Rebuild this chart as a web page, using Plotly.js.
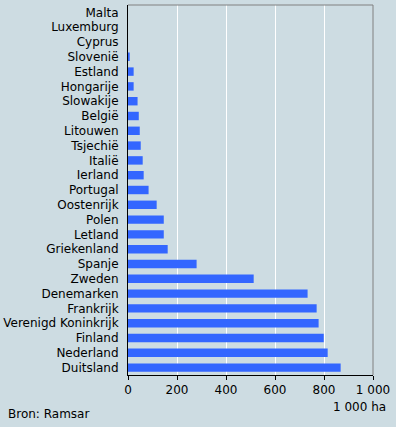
<!DOCTYPE html>
<html>
<head>
<meta charset="utf-8">
<script src="https://cdn.plot.ly/plotly-3.0.1.min.js"></script>
<style>html,body{margin:0;padding:0;background:#cddce2;}#chart{width:396px;height:427px;}</style>
</head>
<body>
<div id="chart"></div>
<script>
const countries = ["Malta","Luxemburg","Cyprus","Slovenië","Estland","Hongarije","Slowakije","België","Litouwen","Tsjechië","Italië","Ierland","Portugal","Oostenrijk","Polen","Letland","Griekenland","Spanje","Zweden","Denemarken","Frankrijk","Verenigd Koninkrijk","Finland","Nederland","Duitsland"];
const areas = [0,0,0,7,23,23,39,44,48,52,60,64,84,117,146,146,162,280,513,733,770,778,799,815,868];
const tickValues = [0,200,400,600,800,1000];
const tickLabels = ["0","200","400","600","800","1 000"];

const bg = "#cddce2";
const data = [{
  type: "bar",
  orientation: "h",
  y: countries,
  x: areas,
  marker: {color: "#3366ff"},
  hoverinfo: "skip"
}];
const layout = {
  width: 396, height: 427,
  paper_bgcolor: bg, plot_bgcolor: bg,
  margin: {l: 128, r: 23, t: 5, b: 52},
  bargap: 0.43,
  showlegend: false,
  font: {family: "DejaVu Sans, Verdana, sans-serif", size: 12, color: "#000"},
  xaxis: {
    range: [0, 1000], fixedrange: true,
    tickvals: tickValues, ticktext: tickLabels,
    showgrid: true, gridcolor: "#ffffff", gridwidth: 1,
    showline: true, linecolor: "#000", linewidth: 1,
    ticks: "outside", ticklen: 4, tickcolor: "#000",
    zeroline: false
  },
  yaxis: {
    type: "category", autorange: "reversed", fixedrange: true,
    showgrid: false, showline: true, linecolor: "#000", linewidth: 1,
    ticks: "", ticklabelstandoff: 6, zeroline: false
  },
  shapes: [
    {type: "line", xref: "paper", yref: "paper", x0: 0, x1: 1, y0: 1, y1: 1, line: {color: "#808080", width: 1}},
    {type: "line", xref: "paper", yref: "paper", x0: 1, x1: 1, y0: 0, y1: 1, line: {color: "#808080", width: 1}}
  ],
  annotations: [
    {text: "1 000 ha", xref: "paper", yref: "paper", x: 1.06, y: 0, yshift: -32, xanchor: "right", yanchor: "middle", showarrow: false},
    {text: "Bron: Ramsar", xref: "paper", yref: "paper", x: 0, xshift: -122, y: 0, yshift: -39, xanchor: "left", yanchor: "middle", showarrow: false}
  ]
};
Plotly.newPlot("chart", data, layout, {displayModeBar: false, staticPlot: true});
</script>
</body>
</html>
